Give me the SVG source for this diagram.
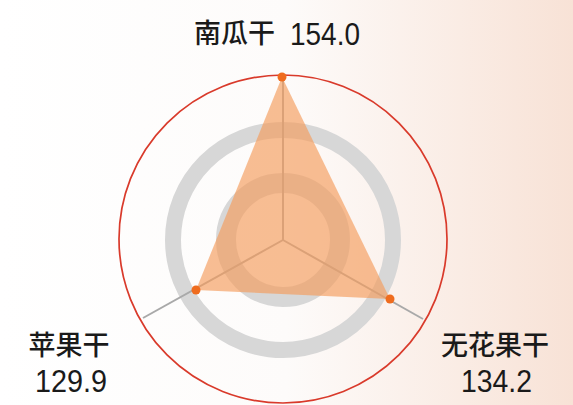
<svg xmlns="http://www.w3.org/2000/svg" width="573" height="405" viewBox="0 0 573 405">
<defs>
<linearGradient id="bg" x1="0" y1="0" x2="1" y2="0">
<stop offset="0" stop-color="#ffffff"/>
<stop offset="0.5" stop-color="#fdfbfa"/>
<stop offset="1" stop-color="#f8e2d6"/>
</linearGradient>
</defs>
<style>
.ring{fill:none;stroke:#d7d7d7}
.axis{stroke:#a9a9a9;stroke-width:2}
.dot{fill:#ef6c1e}
.cjk{font-family:"Noto Sans CJK SC","Noto Sans",sans-serif;font-size:27px;font-weight:500;fill:#1a1a1a}
.num{font-family:"Liberation Sans",Arial,sans-serif;font-size:32px;fill:#1a1a1a}
</style>
<rect width="573" height="405" fill="url(#bg)"/>
<g id="grid">
<circle class="ring" cx="283" cy="240" r="110" stroke-width="16"/>
<circle class="ring" cx="283" cy="240" r="57" stroke-width="20"/>
<circle cx="283" cy="239" r="164" fill="none" stroke="#d93a2b" stroke-width="1.7"/>
</g>
<g id="connectors">
<line class="axis" x1="283" y1="240" x2="283" y2="75"/>
<line class="axis" x1="283" y1="240" x2="143" y2="318"/>
<line class="axis" x1="283" y1="240" x2="423" y2="319"/>
</g>
<g id="series">
<polygon points="282,77 390,299 196,290" fill="#f49c5c" fill-opacity="0.66"/>
<circle class="dot" cx="282" cy="77" r="4.5"/>
<circle class="dot" cx="196" cy="290" r="4.5"/>
<circle class="dot" cx="390" cy="299" r="4.5"/>
</g>
<g id="label-top">
<text class="cjk" x="194" y="43">南瓜干</text>
<text class="num" x="290" y="45" textLength="70" lengthAdjust="spacingAndGlyphs">154.0</text>
</g>
<g id="label-left">
<text class="cjk" x="69" y="355" text-anchor="middle">苹果干</text>
<text class="num" x="35" y="392" textLength="72" lengthAdjust="spacingAndGlyphs">129.9</text>
</g>
<g id="label-right">
<text class="cjk" x="495" y="355" text-anchor="middle">无花果干</text>
<text class="num" x="461" y="392" textLength="71" lengthAdjust="spacingAndGlyphs">134.2</text>
</g>
</svg>
